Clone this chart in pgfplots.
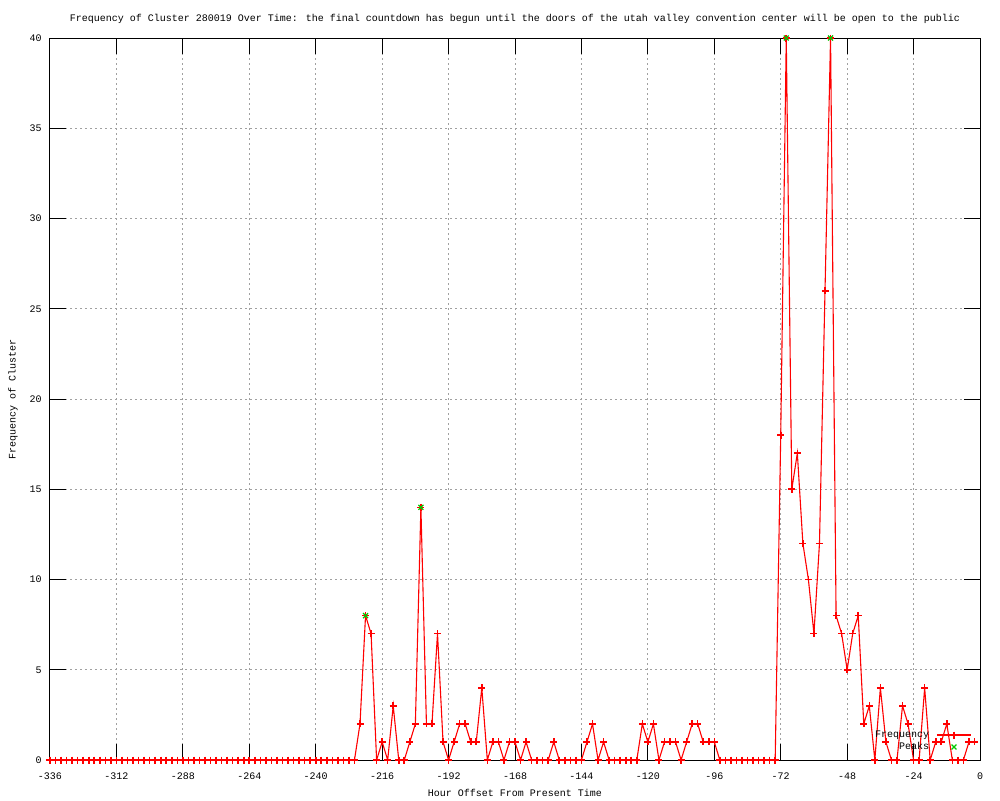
\documentclass[border=0pt]{standalone}
\usepackage{fontspec}
\setmainfont{Liberation Mono}
\usepackage{pgfplots}
\pgfplotsset{compat=1.18}
\definecolor{gpred}{RGB}{255,0,0}
\definecolor{gpgreen}{RGB}{0,200,0}
\definecolor{gpgrid}{RGB}{160,160,160}
\begin{document}
\fontsize{5pt}{6pt}\selectfont
\begin{tikzpicture}[font=\fontsize{5pt}{6pt}\selectfont]
\path[use as bounding box] (0,0) rectangle (500pt,400pt);
\begin{axis}[
  at={(25pt,20pt)}, anchor=south west,
  scale only axis, width=465pt, height=361pt,
  xmin=-336, xmax=0, ymin=0, ymax=40,
  xtick={-336,-312,-288,-264,-240,-216,-192,-168,-144,-120,-96,-72,-48,-24,0},
  xticklabels={-336,-312,-288,-264,-240,-216,-192,-168,-144,-120,-96,-72,-48,-24,0},
  ytick={0,5,10,15,20,25,30,35,40},
  /pgf/number format/assume math mode=true,
  tick align=inside, xtick pos=both, ytick pos=both,
  major tick length=8pt,
  tick style={black, line width=0.5pt},
  axis line style={black, line width=0.5pt},
  grid=major,
  major grid style={gpgrid, line width=0.5pt, dash pattern=on 1pt off 1.5pt},
  xticklabel style={anchor=center, inner sep=0pt, yshift=-8pt},
  yticklabel style={anchor=east, inner sep=0pt, xshift=-4pt},
  title={Frequency of Cluster 280019 Over Time: the final countdown has begun until the doors of the utah valley convention center will be open to the public},
  title style={at={(axis description cs:0.5,1.0097)}, anchor=center, inner sep=0pt},
  xlabel={Hour Offset From Present Time},
  xlabel style={at={(axis description cs:0.5,-0.0457)}, anchor=center, inner sep=0pt},
  ylabel={Frequency of Cluster},
  ylabel style={at={(axis description cs:-0.0398,0.5)}, anchor=center, inner sep=0pt},
  legend style={at={(axis description cs:0.9914,0.0097)}, anchor=south east, draw=none, fill=none, inner sep=0pt, row sep=0.6pt,
    nodes={inner sep=0.6pt},
    /tikz/every odd column/.append style={column sep=3pt}},
  legend cell align=right,
  legend plot pos=right,
]
\addplot[gpred, line width=0.55pt, mark=+, mark size=1.75pt, mark options={gpred, solid, line width=0.8pt}] coordinates {
(-336,0)(-334,0)(-332,0)(-330,0)(-328,0)(-326,0)(-324,0)(-322,0)(-320,0)(-318,0)(-316,0)(-314,0)(-312,0)(-310,0)(-308,0)(-306,0)(-304,0)(-302,0)(-300,0)(-298,0)(-296,0)(-294,0)(-292,0)(-290,0)(-288,0)(-286,0)(-284,0)(-282,0)(-280,0)(-278,0)(-276,0)(-274,0)(-272,0)(-270,0)(-268,0)(-266,0)(-264,0)(-262,0)(-260,0)(-258,0)(-256,0)(-254,0)(-252,0)(-250,0)(-248,0)(-246,0)(-244,0)(-242,0)(-240,0)(-238,0)(-236,0)(-234,0)(-232,0)(-230,0)(-228,0)(-226,0)
(-224,2)(-222,8)(-220,7)(-218,0)(-216,1)(-214,0)(-212,3)(-210,0)(-208,0)(-206,1)(-204,2)(-202,14)(-200,2)(-198,2)(-196,7)(-194,1)(-192,0)(-190,1)(-188,2)(-186,2)(-184,1)(-182,1)(-180,4)(-178,0)(-176,1)(-174,1)(-172,0)(-170,1)(-168,1)(-166,0)(-164,1)(-162,0)(-160,0)(-158,0)(-156,0)(-154,1)(-152,0)(-150,0)(-148,0)(-146,0)(-144,0)(-142,1)(-140,2)(-138,0)(-136,1)(-134,0)(-132,0)(-130,0)(-128,0)(-126,0)(-124,0)(-122,2)(-120,1)(-118,2)(-116,0)(-114,1)(-112,1)(-110,1)(-108,0)(-106,1)(-104,2)(-102,2)(-100,1)(-98,1)(-96,1)
(-94,0)(-92,0)(-90,0)(-88,0)(-86,0)(-84,0)(-82,0)(-80,0)(-78,0)(-76,0)(-74,0)(-72,18)(-70,40)(-68,15)(-66,17)(-64,12)(-62,10)(-60,7)(-58,12)(-56,26)(-54,40)(-52,8)(-50,7)(-48,5)(-46,7)(-44,8)(-42,2)(-40,3)(-38,0)(-36,4)(-34,1)(-32,0)(-30,0)(-28,3)(-26,2)(-24,0)(-22,0)(-20,4)(-18,0)(-16,1)(-14,1)(-12,2)(-10,0)(-8,0)(-6,0)(-4,1)(-2,1)
};
\addlegendentry{Frequency}
\addplot[only marks, gpgreen, mark=x, mark size=1.75pt, mark options={gpgreen, solid, line width=0.6pt}] coordinates {
(-222,8)(-202,14)(-70,40)(-54,40)
};
\addlegendentry{Peaks}
\end{axis}
\end{tikzpicture}
\end{document}
